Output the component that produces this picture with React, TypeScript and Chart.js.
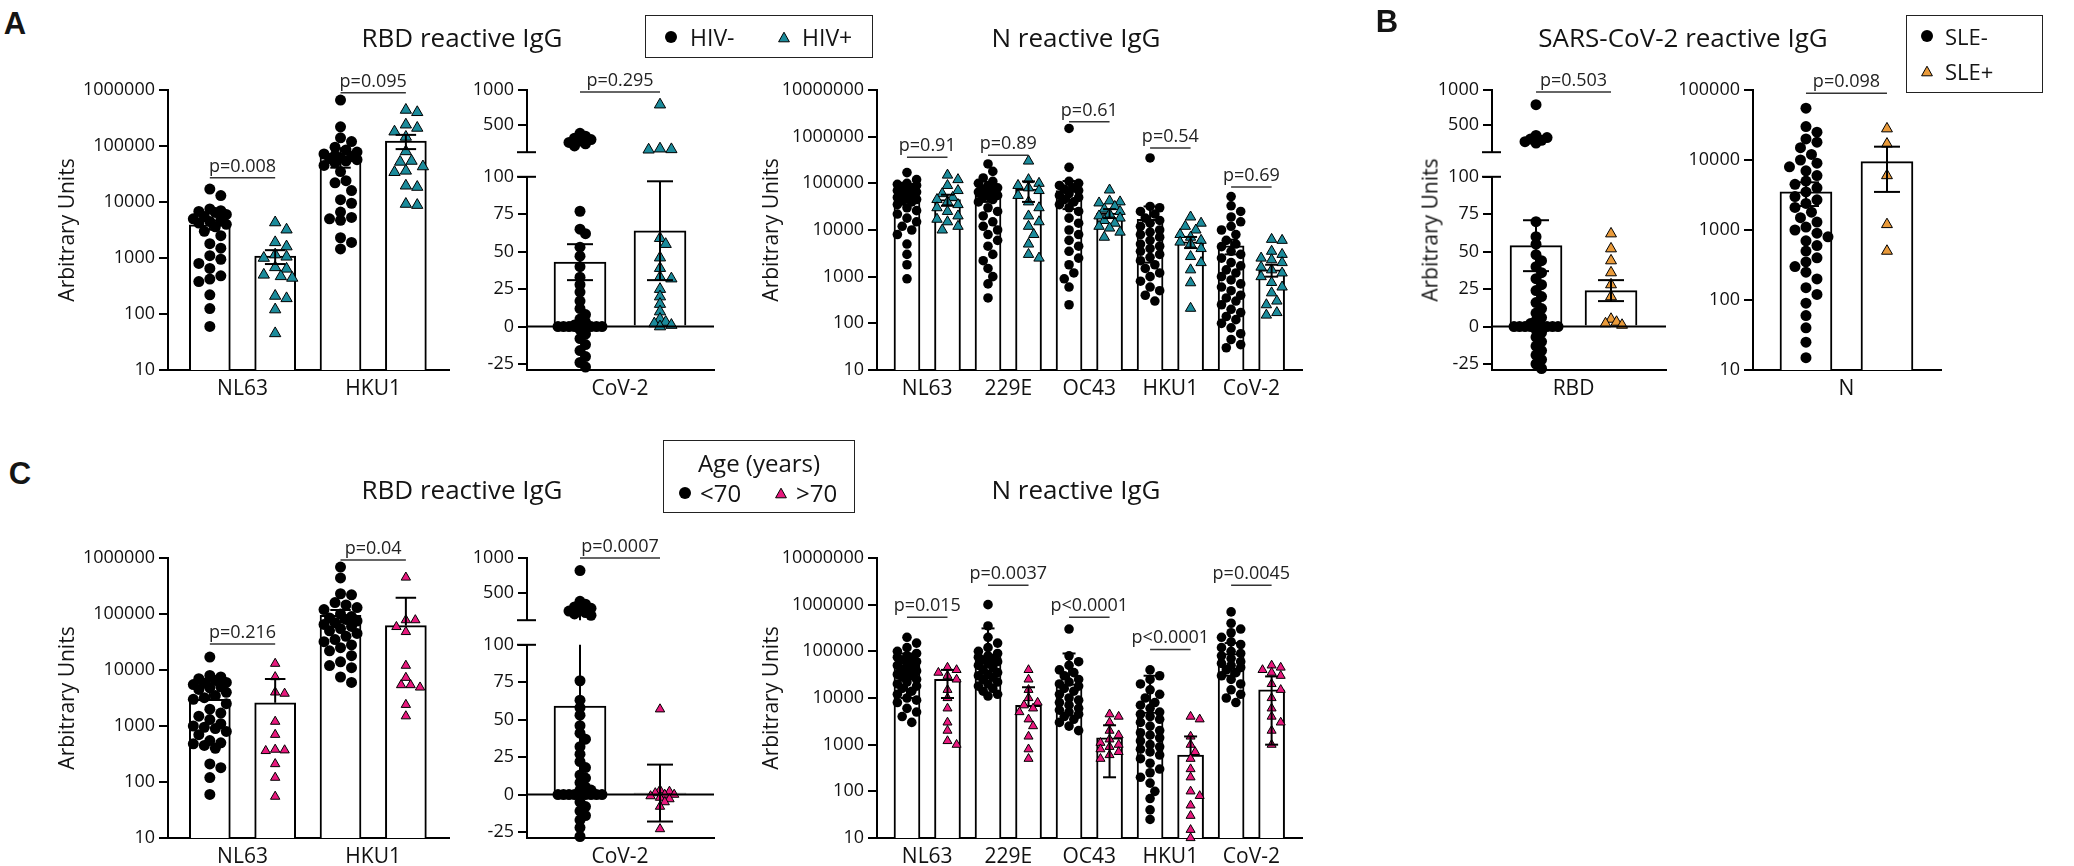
import React, { useEffect, useRef } from "react";
import { Chart, registerables } from "chart.js";

Chart.register(...registerables);

// ======================= DATA =======================
// ---- Panel A : RBD reactive IgG, endemic CoVs (log axis) ----
const aRbdCategories = ["NL63", "HKU1"];
const aRbdNL63HivNeg = [17000, 13000, 7500, 7000, 6800, 6500, 6000, 5500, 5000, 4800, 4500, 4200, 4000, 3600, 3000, 2500, 1800, 1500, 1100, 950, 800, 650, 480, 420, 380, 220, 125, 60];
const aRbdNL63HivPos = [4300, 3200, 1900, 1600, 1150, 1050, 1000, 680, 640, 500, 470, 440, 210, 190, 120, 45];
const aRbdHKU1HivNeg = [660000, 220000, 140000, 120000, 95000, 85000, 78000, 72000, 68000, 65000, 62000, 60000, 57000, 54000, 50000, 45000, 35000, 24000, 22000, 16000, 11000, 9500, 6600, 5300, 5000, 4700, 2300, 1900, 1450];
const aRbdHKU1HivPos = [440000, 400000, 240000, 210000, 180000, 145000, 80000, 54000, 52000, 43000, 36000, 34000, 19500, 18500, 9200, 8800];
const aRbdMeans = [3900, 1080, 66000, 123000];
const aRbdErrors = [700, 300, 25000, 35000];
const aRbdPTexts = ["p=0.008", "p=0.095"];
const aRbdPLevels = [27000, 890000];

// ---- Panel A : RBD reactive IgG, CoV-2 (broken linear axis) ----
const aCov2Category = "CoV-2";
const aCov2HivNeg = [380, 340, 310, 290, 270, 250, 230, 200, 77, 65, 62, 53, 47, 40, 33, 28, 23, 17, 12, 8, 5, 3, 1, 0, 0, 0, 0, 0, 0, 0, 0, 0, 0, -2, -5, -8, -12, -16, -20, -24, -27];
const aCov2HivPos = [790, 160, 150, 145, 59, 55, 46, 39, 33, 32, 25, 20, 15, 10, 5, 3, 2, 1, 0];
const aCov2Means = [43, 64];
const aCov2Errors = [12, 33];
const aCov2PText = "p=0.295";
const aCov2PLevel = 970;

// ---- Panel A : N reactive IgG (log axis) ----
const nCategories = ["NL63", "229E", "OC43", "HKU1", "CoV-2"];
const aN_NL63Neg = [170000, 120000, 100000, 95000, 90000, 85000, 80000, 75000, 70000, 65000, 60000, 55000, 50000, 48000, 45000, 42000, 40000, 35000, 30000, 26000, 22000, 18000, 15000, 12000, 10000, 8000, 5000, 3000, 1800, 900];
const aN_NL63Pos = [150000, 120000, 90000, 70000, 60000, 50000, 45000, 40000, 35000, 30000, 25000, 20000, 17000, 15000, 12000, 10000];
const aN_229ENeg = [260000, 180000, 130000, 110000, 100000, 90000, 80000, 75000, 70000, 65000, 60000, 55000, 50000, 45000, 40000, 30000, 25000, 20000, 15000, 12000, 10000, 8000, 6000, 4500, 3000, 2200, 1500, 1000, 700, 350];
const aN_229EPos = [300000, 120000, 100000, 90000, 80000, 70000, 55000, 40000, 30000, 20000, 15000, 12000, 8000, 5000, 3000, 2500];
const aN_OC43Neg = [1500000, 220000, 110000, 100000, 90000, 80000, 75000, 70000, 60000, 55000, 50000, 45000, 40000, 35000, 30000, 25000, 18000, 14000, 10000, 8000, 6000, 4500, 3500, 2500, 1800, 1200, 900, 600, 250];
const aN_OC43Pos = [72000, 42000, 40000, 38000, 32000, 28000, 25000, 22000, 20000, 18000, 16000, 14000, 12000, 11000, 9000, 7000];
const aN_HKU1Neg = [350000, 32000, 30000, 25000, 22000, 18000, 16000, 14000, 12000, 10000, 9000, 8000, 7000, 6000, 5000, 4500, 4000, 3500, 3000, 2600, 2200, 1800, 1500, 1200, 1000, 800, 600, 500, 400, 300];
const aN_HKU1Pos = [19000, 14000, 12000, 10000, 8000, 7000, 6000, 5500, 5000, 4000, 2700, 2000, 1400, 740, 210];
const aN_CoV2Neg = [52000, 33000, 25000, 19000, 15000, 12000, 10000, 8000, 6000, 5000, 4400, 3500, 3000, 2500, 2000, 1700, 1400, 1200, 1000, 850, 700, 600, 500, 400, 350, 300, 250, 200, 170, 140, 120, 100, 80, 60, 45, 35, 30];
const aN_CoV2Pos = [6300, 6000, 3500, 3000, 2500, 2300, 2000, 1600, 1400, 1200, 1000, 750, 600, 450, 300, 250, 170, 150];
const aNMeans = [50000, 45000, 55000, 75000, 70000, 23000, 17000, 5600, 4600, 1400];
const aNErrors = [10000, 12000, 15000, 35000, 42000, 5000, 15000, 1500, 1600, 400];
const aNPTexts = ["p=0.91", "p=0.89", "p=0.61", "p=0.54", "p=0.69"];
const aNPLevels = [363000, 400000, 2100000, 570000, 83000];

// ---- Panel B : SARS-CoV-2 reactive IgG (SLE- / SLE+) ----
const bRbdCategory = "RBD";
const bRbdSleNeg = [790, 350, 320, 300, 280, 260, 240, 70, 60, 55, 48, 44, 40, 36, 32, 28, 24, 20, 16, 12, 9, 6, 4, 2, 0, 0, 0, 0, 0, 0, 0, 0, 0, 0, 0, 0, -2, -4, -7, -10, -13, -16, -19, -22, -25, -28];
const bRbdSlePos = [62, 52, 44, 36, 28, 20, 5, 3, 2, 1];
const bRbdMeans = [54, 24];
const bRbdErrors = [17, 7];
const bRbdPText = "p=0.503";
const bRbdPLevel = 970;
const bNCategory = "N";
const bNSleNeg = [55000, 30000, 25000, 20000, 18000, 15000, 12000, 10000, 9000, 8000, 7000, 6000, 5000, 4500, 4000, 3500, 3000, 2700, 2400, 2100, 1800, 1500, 1300, 1100, 1000, 900, 800, 700, 600, 500, 400, 350, 300, 250, 200, 150, 120, 90, 60, 40, 25, 15];
const bNSlePos = [28000, 17000, 6000, 1200, 500];
const bNMeans = [3500, 9500];
const bNErrors = [1300, 6000];
const bNPText = "p=0.098";
const bNPLevel = 90000;

// ---- Panel C : RBD reactive IgG by age (log axis) ----
const cRbdNL63Young = [17000, 8000, 7500, 7000, 6500, 6000, 5800, 5500, 5000, 4800, 4500, 4000, 3500, 3200, 3000, 2500, 2000, 1700, 1500, 1300, 1100, 1000, 950, 900, 800, 700, 550, 500, 480, 450, 400, 210, 180, 120, 60];
const cRbdNL63Old = [13000, 7500, 4000, 3800, 1200, 700, 380, 370, 360, 210, 120, 55];
const cRbdHKU1Young = [690000, 440000, 230000, 220000, 160000, 145000, 130000, 120000, 100000, 90000, 85000, 80000, 75000, 70000, 65000, 60000, 55000, 50000, 45000, 40000, 35000, 32000, 28000, 25000, 22000, 18000, 14000, 12000, 11000, 7500, 6000];
const cRbdHKU1Old = [450000, 78000, 78000, 59000, 48000, 12000, 7300, 5400, 5400, 4900, 2400, 1500];
const cRbdMeans = [3000, 2600, 95000, 62000];
const cRbdErrors = [3600, 4300, 23000, 133000];
const cRbdPTexts = ["p=0.216", "p=0.04"];
const cRbdPLevels = [29000, 920000];

// ---- Panel C : RBD reactive IgG, CoV-2 (broken linear axis) ----
const cCov2Young = [820, 380, 340, 300, 280, 260, 240, 220, 200, 180, 76, 63, 58, 53, 46, 41, 37, 32, 27, 22, 18, 13, 11, 8, 5, 3, 3, 0, 0, 0, 0, 0, 0, 0, 0, 0, 0, 0, 0, 0, 0, 0, 0, 0, 0, -5, -8, -11, -14, -17, -22, -28];
const cCov2Old = [57, 3, 2, 1, 0, 0, -1, -2, -3, -5, -8, -23];
const cCov2Means = [59, 1];
const cCov2Errors = [150, 19];
const cCov2PText = "p=0.0007";
const cCov2PLevel = 1000;

// ---- Panel C : N reactive IgG by age (log axis) ----
const cN_NL63Young = [200000, 150000, 120000, 100000, 90000, 80000, 75000, 70000, 65000, 60000, 55000, 50000, 45000, 40000, 38000, 35000, 32000, 30000, 28000, 25000, 22000, 20000, 18000, 16000, 14000, 12000, 10000, 9000, 8000, 6000, 5000, 4000, 3000];
const cN_NL63Old = [45000, 40000, 35000, 30000, 25000, 15000, 10000, 6000, 3000, 2000, 1200, 1000];
const cN_229EYoung = [1000000, 350000, 200000, 150000, 120000, 100000, 90000, 80000, 75000, 70000, 65000, 60000, 55000, 50000, 45000, 40000, 35000, 32000, 30000, 28000, 25000, 22000, 20000, 18000, 16000, 14000, 12000, 11000];
const cN_229EOld = [40000, 25000, 15000, 10000, 8000, 7000, 6000, 5000, 3500, 2500, 1500, 800, 500];
const cN_OC43Young = [300000, 80000, 60000, 50000, 40000, 35000, 30000, 25000, 22000, 20000, 18000, 16000, 14000, 12000, 10000, 9000, 8000, 7000, 6000, 5500, 5000, 4500, 4000, 3500, 3000, 2500, 2000];
const cN_OC43Old = [4500, 4000, 3000, 2000, 1600, 1300, 1100, 1000, 900, 800, 700, 600, 500];
const cN_HKU1Young = [40000, 30000, 25000, 20000, 15000, 12000, 10000, 8000, 7000, 6000, 5000, 4500, 4000, 3500, 3000, 2500, 2000, 1800, 1600, 1400, 1200, 1000, 900, 800, 700, 600, 500, 400, 300, 250, 200, 150, 100, 70, 40, 25];
const cN_HKU1Old = [4000, 3500, 1500, 1000, 700, 500, 300, 200, 100, 80, 50, 30, 15, 10];
const cN_CoV2Young = [700000, 400000, 300000, 250000, 200000, 160000, 140000, 120000, 100000, 90000, 80000, 70000, 60000, 55000, 50000, 45000, 40000, 35000, 30000, 25000, 20000, 15000, 12000, 10000, 8000];
const cN_CoV2Old = [50000, 45000, 40000, 35000, 30000, 20000, 15000, 10000, 6000, 4000, 3000, 2000, 1000];
const cNMeans = [50000, 25000, 80000, 7000, 20000, 1400, 5000, 600, 90000, 15000];
const cNErrors = [40000, 15000, 230000, 10000, 70000, 1200, 25000, 900, 60000, 14000];
const cNPTexts = ["p=0.015", "p=0.0037", "p<0.0001", "p<0.0001", "p=0.0045"];
const cNPLevels = [537000, 2600000, 537000, 110000, 2600000];

// ---- Axis ticks ----
const logTicks5 = [10, 100, 1000, 10000, 100000];
const logTicks6 = [10, 100, 1000, 10000, 100000, 1000000];
const logTicks7 = [10, 100, 1000, 10000, 100000, 1000000, 10000000];
const brokenUpperTicks = [500, 1000];
const brokenLowerTicks = [-25, 0, 25, 50, 75, 100];

// ---- Texts ----
const legendHiv = ["HIV-", "HIV+"];
const legendAgeTitle = "Age (years)";
const legendAge = ["<70", ">70"];
const legendSle = ["SLE-", "SLE+"];
const titleRbd = "RBD reactive IgG";
const titleN = "N reactive IgG";
const titleSars = "SARS-CoV-2 reactive IgG";
const yTitle = "Arbitrary Units";

// ======================= STYLE / LAYOUT =======================
const FONT = "'Open Sans', 'Noto Sans', 'DejaVu Sans', sans-serif";
const TEAL = "#1b8b9b";
const PINK = "#e8187d";
const ORANGE = "#e99a3a";
const BLACK = "#000000";
const Y_W = 100;

type SegSpec = { type: "log" | "linear"; min: number; max: number; ticks: number[]; top: number; bottom: number };
type GroupSpec = { x: number; values: number[]; mean: number; err: number; shape: "circle" | "triangle"; color: string; r: number };
type PSpec = { x1: number; x2: number; y: number; text: string };
type PanelSpec = {
  left: number; right: number; xMin: number; xMax: number; barWidth: number;
  segs: SegSpec[]; groups: GroupSpec[]; labels: { x: number; text: string }[];
  pvals: PSpec[]; zeroLine: boolean; skipNegLower: boolean; pack: number;
};

function logSeg(top: number, bottom: number, ticks: number[]): SegSpec {
  return { type: "log", min: ticks[0], max: ticks[ticks.length - 1], ticks, top, bottom };
}
function brokenSegs(top: number): SegSpec[] {
  return [
    { type: "linear", min: 110, max: 1000, ticks: brokenUpperTicks, top, bottom: top + 65 },
    { type: "linear", min: -29, max: 100, ticks: brokenLowerTicks, top: top + 86, bottom: top + 280 },
  ];
}

function pairGroups(series: number[][], means: number[], errs: number[], colorB: string, shapeB: "circle" | "triangle", rA: number, rB: number): GroupSpec[] {
  return series.map((vals, i) => ({
    x: i, values: vals, mean: means[i], err: errs[i],
    shape: i % 2 === 0 ? "circle" : shapeB,
    color: i % 2 === 0 ? BLACK : colorB,
    r: i % 2 === 0 ? rA : rB,
  }));
}

function pairP(texts: string[], levels: number[]): PSpec[] {
  return texts.map((t, i) => ({ x1: 2 * i, x2: 2 * i + 1, y: levels[i], text: t }));
}
function pairLabels(cats: string[]) {
  return cats.map((c, i) => ({ x: 2 * i + 0.5, text: c }));
}

function rbdPanel(top: number, series: number[][], means: number[], errs: number[], ptexts: string[], plevels: number[], color: string, r: number, skip: boolean): PanelSpec {
  return {
    left: 168, right: 449, xMin: -0.64, xMax: 3.66, barWidth: 41,
    segs: [logSeg(top, top + 280, logTicks6)],
    groups: pairGroups(series, means, errs, color, "triangle", 5.5, r),
    labels: pairLabels(aRbdCategories), pvals: pairP(ptexts, plevels), zeroLine: false, skipNegLower: skip, pack: 0.9,
  };
}
function brokenPanel(left: number, right: number, xMin: number, xMax: number, top: number, series: number[][], means: number[], errs: number[], ptext: string, plevel: number, label: string, color: string, r: number): PanelSpec {
  return {
    left, right, xMin, xMax, barWidth: 52,
    segs: brokenSegs(top),
    groups: pairGroups(series, means, errs, color, "triangle", 5.5, r),
    labels: [{ x: 0.5, text: label }], pvals: [{ x1: 0, x2: 1, y: plevel, text: ptext }], zeroLine: true, skipNegLower: false, pack: 0.55,
  };
}
function nPanel(top: number, series: number[][], means: number[], errs: number[], ptexts: string[], plevels: number[], color: string, r: number, skip: boolean): PanelSpec {
  return {
    left: 877, right: 1302, xMin: -0.74, xMax: 9.75, barWidth: 26,
    segs: [logSeg(top, top + 280, logTicks7)],
    groups: pairGroups(series, means, errs, color, "triangle", 4.8, r),
    labels: pairLabels(nCategories), pvals: pairP(ptexts, plevels), zeroLine: false, skipNegLower: skip, pack: 0.9,
  };
}

const ROW_A = 90;
const ROW_C = 558;

const panels: PanelSpec[] = [
  rbdPanel(ROW_A, [aRbdNL63HivNeg, aRbdNL63HivPos, aRbdHKU1HivNeg, aRbdHKU1HivPos], aRbdMeans, aRbdErrors, aRbdPTexts, aRbdPLevels, TEAL, 6.5, false),
  brokenPanel(527, 714, -0.6625, 1.675, ROW_A, [aCov2HivNeg, aCov2HivPos], aCov2Means, aCov2Errors, aCov2PText, aCov2PLevel, aCov2Category, TEAL, 6.5),
  nPanel(ROW_A, [aN_NL63Neg, aN_NL63Pos, aN_229ENeg, aN_229EPos, aN_OC43Neg, aN_OC43Pos, aN_HKU1Neg, aN_HKU1Pos, aN_CoV2Neg, aN_CoV2Pos], aNMeans, aNErrors, aNPTexts, aNPLevels, TEAL, 6, false),
  brokenPanel(1492, 1666, -0.587, 1.733, ROW_A, [bRbdSleNeg, bRbdSlePos], bRbdMeans, bRbdErrors, bRbdPText, bRbdPLevel, bRbdCategory, ORANGE, 6.3),
  {
    left: 1753, right: 1941, xMin: -0.654, xMax: 1.667, barWidth: 52,
    segs: [logSeg(ROW_A, ROW_A + 280, logTicks5)],
    groups: pairGroups([bNSleNeg, bNSlePos], bNMeans, bNErrors, ORANGE, "triangle", 5.5, 6.3),
    labels: [{ x: 0.5, text: bNCategory }], pvals: [{ x1: 0, x2: 1, y: bNPLevel, text: bNPText }], zeroLine: false, skipNegLower: false, pack: 0.9,
  },
  rbdPanel(ROW_C, [cRbdNL63Young, cRbdNL63Old, cRbdHKU1Young, cRbdHKU1Old], cRbdMeans, cRbdErrors, cRbdPTexts, cRbdPLevels, PINK, 5.4, true),
  brokenPanel(527, 714, -0.6625, 1.675, ROW_C, [cCov2Young, cCov2Old], cCov2Means, cCov2Errors, cCov2PText, cCov2PLevel, aCov2Category, PINK, 5.4),
  nPanel(ROW_C, [cN_NL63Young, cN_NL63Old, cN_229EYoung, cN_229EOld, cN_OC43Young, cN_OC43Old, cN_HKU1Young, cN_HKU1Old, cN_CoV2Young, cN_CoV2Old], cNMeans, cNErrors, cNPTexts, cNPLevels, PINK, 5.2, true),
];

// ======================= HELPERS =======================
function segPx(seg: SegSpec, v: number): number {
  if (seg.type === "log") {
    const a = Math.log10(seg.min), b = Math.log10(seg.max);
    return seg.top + ((b - Math.log10(v)) / (b - a)) * (seg.bottom - seg.top);
  }
  return seg.top + ((seg.max - v) / (seg.max - seg.min)) * (seg.bottom - seg.top);
}

function inSeg(spec: PanelSpec, si: number, v: number): boolean {
  if (spec.segs.length === 1) return true;
  const lowerMax = spec.segs[1].max;
  return si === 0 ? v > lowerMax : v <= lowerMax;
}

// beeswarm-like horizontal placement (layout only, values unchanged)
function swarm(ys: number[], diam: number, maxOff: number, pack: number): number[] {
  const order = ys.map((_, i) => i).sort((a, b) => ys[a] - ys[b]);
  const placed: { x: number; y: number }[] = [];
  const res = new Array(ys.length).fill(0);
  const step = diam * 0.5;
  const nSteps = Math.max(1, Math.floor(maxOff / step));
  for (const i of order) {
    const y = ys[i];
    let bestX = 0;
    let bestScore = -Infinity;
    for (let k = 0; k <= 2 * nSteps; k++) {
      const m = Math.ceil(k / 2) * (k % 2 === 1 ? 1 : -1);
      const cx = m * step;
      let minD = Infinity;
      for (const p of placed) {
        const d = Math.hypot(p.x - cx, p.y - y);
        if (d < minD) minD = d;
      }
      if (minD >= diam * pack) { bestX = cx; break; }
      if (minD > bestScore) { bestScore = minD; bestX = cx; }
    }
    placed.push({ x: bestX, y });
    res[i] = bestX;
  }
  return res;
}

function makeAnnot(cfg: any) {
  return {
    id: "annot",
    afterDatasetsDraw(chart: any) {
      const ctx = chart.ctx;
      const xs = chart.scales.x;
      const ys = chart.scales.y;
      const area = chart.chartArea;
      ctx.save();
      ctx.strokeStyle = BLACK;
      ctx.lineWidth = 2;
      if (cfg.zeroLine) {
        const py = ys.getPixelForValue(0);
        ctx.beginPath(); ctx.moveTo(area.left, py); ctx.lineTo(area.right, py); ctx.stroke();
      }
      for (const e of cfg.errors) {
        let hi = e.mean + e.err;
        let lo = e.mean - e.err;
        let hiCap = true, loCap = true;
        if (cfg.log && lo <= 0) { lo = cfg.skipNegLower ? e.mean : ys.min; loCap = false; }
        if (lo < ys.min) { lo = ys.min; loCap = false; }
        if (hi > ys.max) { hi = ys.max; hiCap = false; }
        if (hi <= lo) continue;
        const px = xs.getPixelForValue(e.x);
        const y1 = ys.getPixelForValue(hi);
        const y2 = ys.getPixelForValue(lo);
        ctx.beginPath(); ctx.moveTo(px, y1); ctx.lineTo(px, y2); ctx.stroke();
        const hw = e.cap / 2;
        if (hiCap) { ctx.beginPath(); ctx.moveTo(px - hw, y1); ctx.lineTo(px + hw, y1); ctx.stroke(); }
        if (loCap) { ctx.beginPath(); ctx.moveTo(px - hw, y2); ctx.lineTo(px + hw, y2); ctx.stroke(); }
      }
      if (cfg.breakTop) {
        ctx.beginPath(); ctx.moveTo(area.left - 10, area.top); ctx.lineTo(area.left + 9, area.top); ctx.stroke();
      }
      if (cfg.breakBottom) {
        ctx.beginPath(); ctx.moveTo(area.left - 10, area.bottom); ctx.lineTo(area.left + 9, area.bottom); ctx.stroke();
      }
      ctx.lineWidth = 1.5;
      ctx.strokeStyle = "#333";
      ctx.fillStyle = "#222";
      ctx.font = `18px ${FONT}`;
      ctx.textAlign = "center";
      ctx.textBaseline = "alphabetic";
      for (const p of cfg.pvals) {
        const py = ys.getPixelForValue(p.y);
        const x1 = xs.getPixelForValue(p.x1);
        const x2 = xs.getPixelForValue(p.x2);
        ctx.beginPath(); ctx.moveTo(x1, py); ctx.lineTo(x2, py); ctx.stroke();
        ctx.fillText(p.text, (x1 + x2) / 2, py - 6);
      }
      ctx.restore();
    },
  };
}

// ======================= COMPONENTS =======================
function SegChart({ spec, si }: { spec: PanelSpec; si: number }) {
  const ref = useRef<HTMLCanvasElement>(null);
  const seg = spec.segs[si];
  const isTop = si === 0;
  const isBottom = si === spec.segs.length - 1;
  const padT = isTop ? 70 : 14;
  const padB = isBottom ? 0 : 12;
  const xH = isBottom ? 50 : 0;
  const padR = 20;
  const w = Y_W + (spec.right - spec.left) + padR;
  const h = padT + (seg.bottom - seg.top) + padB + xH;

  useEffect(() => {
    if (!ref.current) return;
    const pxPerX = (spec.right - spec.left) / (spec.xMax - spec.xMin);
    const datasets: any[] = [];
    if (isBottom) {
      datasets.push({
        type: "bar",
        data: spec.groups.map((g) => ({ x: g.x, y: g.mean })),
        barThickness: spec.barWidth,
        backgroundColor: "#ffffff",
        borderColor: BLACK,
        borderWidth: 2,
        order: 5,
      });
    }
    for (const g of spec.groups) {
      const vals = g.values.filter((v) => inSeg(spec, si, v));
      const ys = vals.map((v) => segPx(seg, v));
      const diam = g.shape === "circle" ? 2 * g.r : 1.75 * g.r;
      const offs = swarm(ys, diam, spec.barWidth / 2 - 2, spec.pack);
      datasets.push({
        type: "scatter",
        data: vals.map((v, i) => ({ x: g.x + offs[i] / pxPerX, y: v })),
        pointStyle: g.shape,
        pointRadius: g.r,
        pointBackgroundColor: g.color,
        pointBorderColor: BLACK,
        pointBorderWidth: g.shape === "circle" ? 0 : 1,
        backgroundColor: g.color,
        borderColor: BLACK,
        showLine: false,
        order: 1,
        clip: false,
      });
    }
    const cfg = {
      log: seg.type === "log",
      errors: spec.groups.map((g) => ({ x: g.x, mean: g.mean, err: g.err, cap: spec.barWidth / 2 })),
      zeroLine: spec.zeroLine && isBottom,
      pvals: isTop ? spec.pvals : [],
      breakTop: spec.segs.length > 1 && !isTop,
      breakBottom: !isBottom,
      skipNegLower: spec.skipNegLower,
    };
    const chart = new Chart(ref.current, {
      type: "bar",
      data: { datasets },
      options: {
        animation: false,
        responsive: false,
        maintainAspectRatio: false,
        events: [],
        layout: { padding: { left: 0, right: padR, top: padT, bottom: padB }, autoPadding: false },
        plugins: { legend: { display: false }, tooltip: { enabled: false }, title: { display: false } },
        scales: {
          x: {
            type: "linear",
            min: spec.xMin,
            max: spec.xMax,
            offset: false,
            display: isBottom,
            grid: { display: true, drawOnChartArea: false, drawTicks: false, color: BLACK },
            border: { display: true, color: BLACK, width: 2 },
            ticks: {
              autoSkip: false, maxRotation: 0, minRotation: 0, padding: 6, color: "#111",
              font: { family: FONT, size: 21 },
              callback: (_v: any, i: number) => (spec.labels[i] ? spec.labels[i].text : ""),
            },
            afterBuildTicks: (s: any) => { s.ticks = spec.labels.map((l) => ({ value: l.x })); },
            afterFit: (s: any) => { s.height = xH; },
          },
          y: {
            type: seg.type === "log" ? "logarithmic" : "linear",
            min: seg.min,
            max: seg.max,
            grid: { display: true, drawOnChartArea: false, drawTicks: true, tickLength: 9, color: BLACK, lineWidth: 2 },
            border: { display: true, color: BLACK, width: 2 },
            ticks: {
              autoSkip: false, padding: 4, color: "#111",
              font: { family: FONT, size: 18 },
              callback: (v: any) => String(v),
            },
            afterBuildTicks: (s: any) => { s.ticks = seg.ticks.map((v) => ({ value: v })); },
            afterFit: (s: any) => { s.width = Y_W; },
          },
        },
      } as any,
      plugins: [makeAnnot(cfg)],
    });
    return () => chart.destroy();
  }, []);

  return (
    <canvas
      ref={ref}
      width={w}
      height={h}
      style={{ position: "absolute", left: spec.left - Y_W, top: seg.top - padT, width: w, height: h }}
    />
  );
}

function Panel({ spec }: { spec: PanelSpec }) {
  return (
    <>
      {spec.segs.map((_, si) => (
        <SegChart key={si} spec={spec} si={si} />
      ))}
    </>
  );
}

function Txt(props: { x: number; y: number; text: string; size: number; bold?: boolean; rotate?: boolean; leftAlign?: boolean; family?: string }) {
  const { x, y, text, size, bold, rotate, leftAlign, family } = props;
  const tf = leftAlign ? "translate(0,-50%)" : `translate(-50%,-50%)${rotate ? " rotate(-90deg)" : ""}`;
  return (
    <div
      style={{
        position: "absolute", left: x, top: y, transform: tf, fontFamily: family || FONT, fontSize: size,
        fontWeight: bold ? 700 : 400, lineHeight: 1, whiteSpace: "nowrap", color: "#141414",
      }}
    >
      {text}
    </div>
  );
}

function Marker({ x, y, shape, color, size }: { x: number; y: number; shape: "circle" | "triangle"; color: string; size: number }) {
  return (
    <svg width={size + 4} height={size + 4} style={{ position: "absolute", left: x - size / 2 - 2, top: y - size / 2 - 2 }}>
      {shape === "circle" ? (
        <circle cx={size / 2 + 2} cy={size / 2 + 2} r={size / 2} fill={color} />
      ) : (
        <polygon
          points={`${size / 2 + 2},${2 + size * 0.1} ${2 + size * 0.05},${2 + size * 0.9} ${2 + size * 0.95},${2 + size * 0.9}`}
          fill={color}
          stroke="#000"
          strokeWidth={1}
        />
      )}
    </svg>
  );
}

function Box({ x, y, w, h }: { x: number; y: number; w: number; h: number }) {
  return <div style={{ position: "absolute", left: x, top: y, width: w, height: h, border: "1.5px solid #222", boxSizing: "border-box" }} />;
}

export default function App() {
  const rowC = ROW_C - ROW_A;
  return (
    <div style={{ position: "fixed", left: 0, top: 0, width: 2074, height: 866, background: "#fff", overflow: "hidden" }}>
      {panels.map((p, i) => (
        <Panel key={i} spec={p} />
      ))}

      {/* panel letters */}
      <Txt x={15} y={23} text="A" size={31} bold family="'Liberation Sans', Arial, sans-serif" />
      <Txt x={1387} y={21} text="B" size={31} bold family="'Liberation Sans', Arial, sans-serif" />
      <Txt x={20} y={473} text="C" size={31} bold family="'Liberation Sans', Arial, sans-serif" />

      {/* titles */}
      <Txt x={462} y={37} text={titleRbd} size={26} />
      <Txt x={1076} y={37} text={titleN} size={26} />
      <Txt x={1683} y={37} text={titleSars} size={26} />
      <Txt x={462} y={489} text={titleRbd} size={26} />
      <Txt x={1076} y={489} text={titleN} size={26} />

      {/* y-axis titles */}
      <Txt x={66} y={230} text={yTitle} size={21} rotate />
      <Txt x={770} y={230} text={yTitle} size={21} rotate />
      <Txt x={1430} y={230} text={yTitle} size={21} rotate />
      <Txt x={66} y={230 + rowC} text={yTitle} size={21} rotate />
      <Txt x={770} y={230 + rowC} text={yTitle} size={21} rotate />

      {/* HIV legend */}
      <Box x={645} y={15} w={228} h={43} />
      <Marker x={671} y={37} shape="circle" color={BLACK} size={12} />
      <Txt x={690} y={37} text={legendHiv[0]} size={23} leftAlign />
      <Marker x={784} y={37} shape="triangle" color={TEAL} size={12} />
      <Txt x={802} y={37} text={legendHiv[1]} size={23} leftAlign />

      {/* Age legend */}
      <Box x={663} y={440} w={192} h={73} />
      <Txt x={759} y={463} text={legendAgeTitle} size={24} />
      <Marker x={685} y={493} shape="circle" color={BLACK} size={12} />
      <Txt x={700} y={493} text={legendAge[0]} size={24} leftAlign />
      <Marker x={781} y={493} shape="triangle" color={PINK} size={12} />
      <Txt x={796} y={493} text={legendAge[1]} size={24} leftAlign />

      {/* SLE legend */}
      <Box x={1906} y={15} w={137} h={78} />
      <Marker x={1927} y={36} shape="circle" color={BLACK} size={12} />
      <Txt x={1945} y={36} text={legendSle[0]} size={22} leftAlign />
      <Marker x={1927} y={71} shape="triangle" color={ORANGE} size={12} />
      <Txt x={1945} y={71} text={legendSle[1]} size={22} leftAlign />
    </div>
  );
}
